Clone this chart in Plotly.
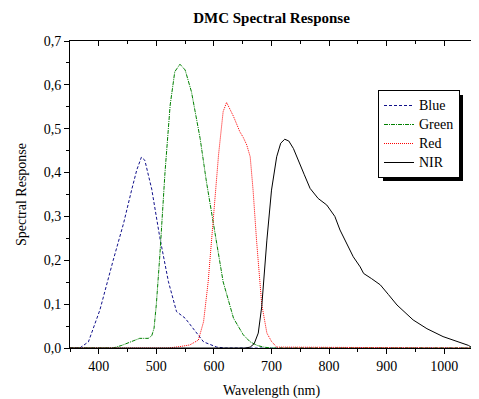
import plotly.graph_objects as go

# ---- data ----
blue_nm = [350, 367, 382, 402, 425, 443, 457, 466, 474, 480, 492, 506, 521, 535, 550, 564, 582, 605, 620, 1050]
blue_v = [0, 0, 0.014, 0.087, 0.20, 0.284, 0.36, 0.406, 0.435, 0.428, 0.362, 0.252, 0.151, 0.083, 0.068, 0.045, 0.014, 0.002, 0, 0]

green_nm = [350, 425, 440, 454, 471, 486, 492, 496, 500, 506, 515, 524, 532, 541, 550, 561, 576, 587, 602, 616, 634, 651, 663, 675, 686, 700, 1050]
green_v = [0, 0, 0.006, 0.014, 0.022, 0.022, 0.028, 0.045, 0.10, 0.21, 0.40, 0.554, 0.63, 0.647, 0.634, 0.584, 0.478, 0.379, 0.265, 0.151, 0.068, 0.03, 0.014, 0.006, 0.002, 0, 0]

red_nm = [350, 520, 540, 558, 573, 582, 590, 599, 608, 616, 622, 634, 645, 651, 657, 663, 668, 674, 683, 692, 700, 709, 1050]
red_v = [0, 0, 0.003, 0.007, 0.018, 0.06, 0.151, 0.288, 0.44, 0.539, 0.560, 0.528, 0.493, 0.48, 0.463, 0.436, 0.36, 0.246, 0.10, 0.034, 0.015, 0.002, 0]

nir_nm = [350, 655, 663, 670, 677, 683, 692, 700, 709, 716, 723, 730, 738, 747, 757, 767, 781, 796, 810, 819, 831, 842, 854, 860, 874, 889, 903, 918, 946, 970, 998, 1020, 1033, 1042, 1048, 1050]
nir_v = [0, 0, 0.002, 0.01, 0.034, 0.094, 0.246, 0.36, 0.436, 0.467, 0.476, 0.472, 0.455, 0.425, 0.395, 0.364, 0.341, 0.326, 0.30, 0.269, 0.239, 0.208, 0.185, 0.17, 0.158, 0.144, 0.122, 0.098, 0.064, 0.044, 0.026, 0.016, 0.011, 0.006, 0.001, 0]

series_names = ["Blue", "Green", "Red", "NIR"]
x_ticks = [400, 500, 600, 700, 800, 900, 1000]
y_ticks = [0.0, 0.1, 0.2, 0.3, 0.4, 0.5, 0.6, 0.7]

FONT = "Liberation Serif"

# figure is placed 8px in from the page corner (browser body margin)
W, H = 471, 391
L, T, R, B = 62, 33, 6, 51
PW, PH = W - L - R, H - T - B


def px(xp):
    return (xp - 8 - L) / PW


def py(yp):
    return (T + PH - (yp - 8)) / PH


def lbl(s):
    return f'<span style="font-size:14px">{s}</span>'


fig = go.Figure()
fig.add_trace(go.Scatter(x=blue_nm, y=blue_v, name=lbl(series_names[0]), mode="lines",
                         line=dict(color="#10108a", width=1, dash="3px,2px")))
fig.add_trace(go.Scatter(x=green_nm, y=green_v, name=lbl(series_names[1]), mode="lines",
                         line=dict(color="#008000", width=1, dash="4px,1px,1px,1px")))
fig.add_trace(go.Scatter(x=red_nm, y=red_v, name=lbl(series_names[2]), mode="lines",
                         line=dict(color="#ff0000", width=1, dash="1px,1px")))
fig.add_trace(go.Scatter(x=nir_nm, y=nir_v, name=lbl(series_names[3]), mode="lines",
                         line=dict(color="#000000", width=1)))

fig.update_layout(
    width=W, height=H,
    margin=dict(l=L, r=R, t=T, b=B),
    paper_bgcolor="white", plot_bgcolor="white",
    separators=",.",
    font=dict(family=FONT, size=14, color="black"),
    title=dict(text="<b>DMC Spectral Response</b>", xref="paper", x=0.5, xanchor="center",
               y=1 - 10 / H, yanchor="middle", font=dict(family=FONT, size=15)),
    showlegend=True,
    legend=dict(x=px(378), y=py(90), xanchor="left", yanchor="top",
                bgcolor="white", bordercolor="black", borderwidth=1,
                font=dict(family=FONT, size=12), tracegroupgap=0,
                itemwidth=30),
    xaxis=dict(range=[350, 1050], tickvals=x_ticks, ticks="outside", ticklen=5,
               tickcolor="black", showline=True, linecolor="black", linewidth=1,
               showgrid=False, zeroline=False, automargin=False,
               minor=dict(dtick=50, ticks="outside", ticklen=3, tickcolor="black", showgrid=False),
               title=dict(text="Wavelength (nm)", standoff=12, font=dict(size=14)),
               tickfont=dict(size=14)),
    xaxis2=dict(range=[350, 1050], overlaying="x", side="top", matches="x",
                tickvals=x_ticks, ticks="inside", ticklen=5, tickcolor="black",
                showline=True, linecolor="black", linewidth=1, showticklabels=False,
                showgrid=False, zeroline=False, automargin=False,
                minor=dict(dtick=50, ticks="inside", ticklen=3, tickcolor="black", showgrid=False)),
    yaxis=dict(range=[0, 0.7], tickvals=y_ticks, tickformat=".1f", ticks="outside", ticklen=5,
               tickcolor="black", showline=True, linecolor="black", linewidth=1,
               showgrid=False, zeroline=False, automargin=False,
               minor=dict(dtick=0.05, ticks="outside", ticklen=3, tickcolor="black", showgrid=False),
               title=dict(text="Spectral Response", standoff=13, font=dict(size=14)),
               tickfont=dict(size=14)),
)

# invisible trace to anchor the top axis
fig.add_trace(go.Scatter(x=[350, 1050], y=[0, 0], xaxis="x2", mode="lines",
                         line=dict(width=0), showlegend=False, hoverinfo="skip"))

# legend drop shadow
fig.add_shape(type="rect", xref="paper", yref="paper",
              x0=px(383), x1=px(463), y0=py(181), y1=py(95),
              fillcolor="black", line=dict(width=0), layer="above")

fig.write_html("out.html")
